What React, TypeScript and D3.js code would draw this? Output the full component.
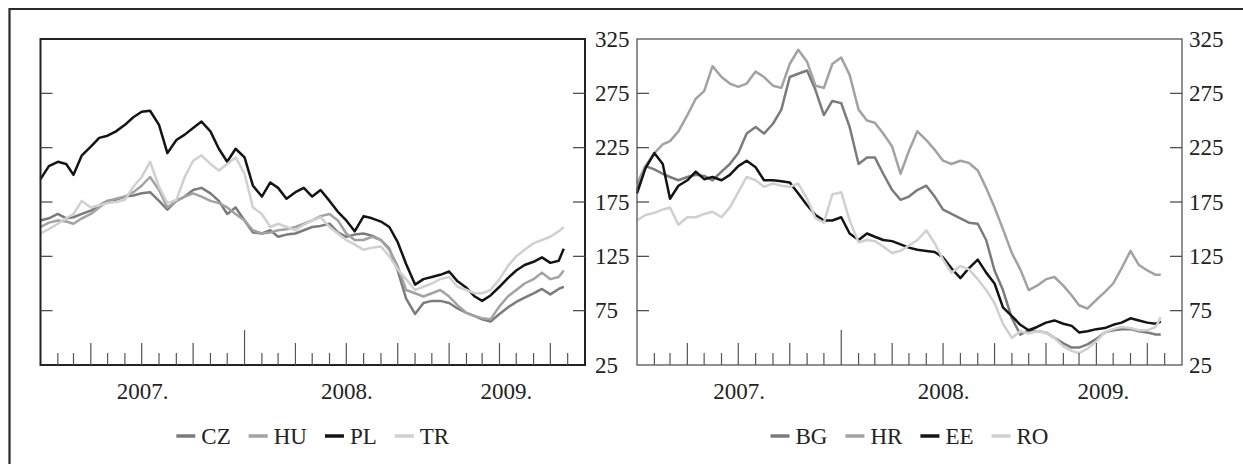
import React, { useEffect, useRef } from 'react';
import * as d3 from 'd3';

const W = 1243;
const H = 464;

const yTicks = [25, 75, 125, 175, 225, 275, 325];
const yearLabels = ['2007.', '2008.', '2009.'];
const leftNames = ['CZ', 'HU', 'PL', 'TR'];
const rightNames = ['BG', 'HR', 'EE', 'RO'];

// Semi-monthly observation dates (1st and 16th), Jan 2007 .. late Jul 2009
const dates: Date[] = d3
  .range(62)
  .map((i) => new Date(2007, Math.floor(i / 2), i % 2 ? 16 : 1))
  .concat([new Date(2009, 6, 25)]);

// Left panel
const CZ = [158, 160, 164, 160, 161, 164, 167, 172, 176, 177, 180, 181, 183, 184, 176, 168, 176, 180, 186, 188,
  183, 176, 164, 170, 158, 147, 146, 149, 143, 145, 146, 149, 152, 153, 155, 147, 143, 145, 146, 144,
  140, 132, 112, 86, 72, 82, 84, 84, 82, 77, 73, 70, 67, 65, 72, 78, 83, 87, 91, 95, 90, 95, 97];
const HU = [152, 156, 158, 157, 155, 160, 164, 170, 176, 178, 180, 184, 190, 198, 186, 170, 176, 180, 183, 180,
  176, 174, 170, 164, 158, 149, 146, 147, 149, 150, 152, 155, 158, 162, 164, 158, 146, 140, 140, 143,
  140, 131, 116, 94, 91, 88, 91, 94, 88, 80, 73, 70, 68, 67, 79, 88, 94, 100, 104, 110, 104, 106, 112];
const PL = [196, 208, 212, 210, 200, 218, 226, 234, 236, 240, 246, 253, 258, 259, 246, 220, 232, 237, 243, 249,
  240, 224, 212, 224, 216, 190, 180, 193, 188, 178, 184, 188, 180, 186, 176, 166, 158, 148, 162, 160,
  157, 152, 138, 118, 99, 104, 106, 108, 111, 102, 96, 88, 84, 89, 97, 105, 112, 117, 120, 124, 119, 121, 132];
const TR = [146, 150, 155, 160, 164, 176, 170, 172, 174, 175, 177, 189, 198, 212, 189, 174, 177, 198, 213, 218,
  210, 204, 210, 216, 201, 170, 164, 152, 155, 152, 149, 154, 158, 161, 152, 146, 140, 136, 131, 133,
  134, 125, 113, 104, 94, 97, 100, 104, 106, 97, 94, 91, 91, 94, 104, 116, 125, 131, 137, 140, 143, 148, 152];

// Right panel
const BG = [186, 208, 205, 201, 198, 195, 198, 200, 199, 195, 203, 210, 220, 238, 244, 238, 247, 260, 290, 293,
  296, 278, 255, 268, 266, 244, 210, 216, 216, 201, 186, 177, 180, 186, 190, 180, 168, 164, 160, 156,
  155, 140, 112, 94, 68, 53, 57, 56, 55, 50, 45, 41, 41, 44, 49, 55, 57, 58, 58, 56, 55, 53, 53];
const HR = [192, 208, 220, 228, 231, 240, 255, 270, 277, 300, 290, 284, 281, 284, 295, 290, 282, 280, 302, 315,
  304, 282, 280, 302, 308, 292, 260, 250, 248, 238, 226, 201, 222, 240, 232, 223, 213, 210, 213, 211,
  204, 188, 170, 150, 128, 113, 94, 98, 104, 106, 98, 89, 80, 77, 85, 92, 100, 114, 130, 117, 112, 108, 108];
const EE = [183, 206, 220, 210, 178, 190, 195, 203, 196, 198, 195, 200, 208, 213, 207, 195, 195, 194, 193, 183,
  172, 163, 158, 158, 161, 146, 140, 146, 143, 140, 139, 136, 133, 131, 130, 129, 124, 114, 105, 114,
  122, 110, 100, 78, 70, 62, 57, 60, 64, 66, 63, 61, 55, 56, 58, 59, 62, 64, 68, 66, 64, 63, 65];
const RO = [158, 163, 165, 168, 170, 154, 161, 161, 164, 166, 161, 170, 184, 198, 195, 189, 192, 190, 189, 192,
  178, 160, 156, 182, 184, 158, 138, 140, 139, 134, 128, 130, 135, 140, 149, 137, 122, 110, 116, 113,
  104, 94, 82, 63, 50, 56, 54, 56, 55, 50, 42, 38, 36, 40, 47, 55, 58, 60, 59, 57, 57, 60, 69];

const seriesColors = ['#7b7b7b', '#a2a2a2', '#141414', '#d0d0d0'];

const panels = [
  { left: 40.5, right: 585, names: leftNames, values: [CZ, HU, PL, TR], frameColor: '#222', frameWidth: 2, labelGap: 10, labels: true },
  { left: 637, right: 1182, names: rightNames, values: [BG, HR, EE, RO], frameColor: '#555', frameWidth: 1.3, labelGap: 7, labels: true },
];

export default function App() {
  const ref = useRef<SVGSVGElement>(null);

  useEffect(() => {
    const svg = d3.select(ref.current);
    svg.selectAll('*').remove();
    const FONT = '"Liberation Serif", "Times New Roman", serif';
    const FS = 23;

    svg.append('rect').attr('width', W).attr('height', H).attr('fill', '#fff');
    // outer frame (top and left only visible)
    svg.append('path')
      .attr('d', `M9.5,${H} V9 H${W}`)
      .attr('fill', 'none')
      .attr('stroke', '#2a2a2a')
      .attr('stroke-width', 2.2);

    const top = 39;
    const bottom = 365;
    const y = d3.scaleLinear().domain([25, 325]).range([bottom, top]);
    const d0 = new Date(2007, 0, 1);
    const d1 = new Date(2009, 8, 1);

    panels.forEach((p) => {
      const x = d3.scaleTime().domain([d0, d1]).range([p.left, p.right]);
      const g = svg.append('g');

      // series lines
      p.values.forEach((vals, si) => {
        const line = d3.line<number>()
          .x((_, i) => x(dates[i]))
          .y((d) => y(d));
        g.append('path')
          .attr('d', line(vals) as string)
          .attr('fill', 'none')
          .attr('stroke', seriesColors[si])
          .attr('stroke-width', 2.5)
          .attr('stroke-linejoin', 'round');
      });

      // frame
      g.append('rect')
        .attr('x', p.left)
        .attr('y', top)
        .attr('width', p.right - p.left)
        .attr('height', bottom - top)
        .attr('fill', 'none')
        .attr('stroke', p.frameColor)
        .attr('stroke-width', p.frameWidth);

      // y ticks (inside, both sides)
      yTicks.slice(1, -1).forEach((t) => {
        g.append('line').attr('x1', p.left).attr('x2', p.left + 12).attr('y1', y(t)).attr('y2', y(t))
          .attr('stroke', '#444').attr('stroke-width', 1.2);
        g.append('line').attr('x1', p.right - 12).attr('x2', p.right).attr('y1', y(t)).attr('y2', y(t))
          .attr('stroke', '#444').attr('stroke-width', 1.2);
      });

      // y labels on right
      yTicks.forEach((t) => {
        g.append('text')
          .attr('x', p.right + p.labelGap)
          .attr('y', y(t))
          .attr('dy', '0.33em')
          .attr('font-family', FONT)
          .attr('font-size', FS)
          .attr('fill', '#222')
          .text(String(t));
      });

      // x month ticks
      const months = d3.timeMonth.range(new Date(2007, 1, 1), new Date(2009, 7, 2));
      months.forEach((m) => {
        let len = 12;
        if (m.getMonth() % 3 === 0) len = 22;
        if (m.getFullYear() === 2008 && m.getMonth() === 0) len = 35;
        g.append('line')
          .attr('x1', x(m)).attr('x2', x(m))
          .attr('y1', bottom).attr('y2', bottom - len)
          .attr('stroke', '#555').attr('stroke-width', 1.2);
      });

      // year labels
      const spans: [Date, Date][] = [
        [new Date(2007, 0, 1), new Date(2008, 0, 1)],
        [new Date(2008, 0, 1), new Date(2009, 0, 1)],
        [new Date(2009, 0, 1), new Date(2009, 6, 25)],
      ];
      yearLabels.forEach((lab, i) => {
        g.append('text')
          .attr('x', (x(spans[i][0]) + x(spans[i][1])) / 2)
          .attr('y', 399)
          .attr('text-anchor', 'middle')
          .attr('font-family', FONT)
          .attr('font-size', FS)
          .attr('fill', '#222')
          .text(lab);
      });

      // legend
      const lg = g.append('g');
      let cx = 0;
      const ly = 436;
      p.names.forEach((n, si) => {
        lg.append('line')
          .attr('x1', cx).attr('x2', cx + 19)
          .attr('y1', ly).attr('y2', ly)
          .attr('stroke', seriesColors[si])
          .attr('stroke-width', 3.5);
        const t = lg.append('text')
          .attr('x', cx + 25)
          .attr('y', ly)
          .attr('dy', '0.33em')
          .attr('font-family', FONT)
          .attr('font-size', FS)
          .attr('fill', '#222')
          .text(n);
        const tw = (t.node() as SVGTextElement).getComputedTextLength();
        cx += 25 + tw + (si < p.names.length - 1 ? 18 : 0);
      });
      const center = (p.left + p.right) / 2;
      lg.attr('transform', `translate(${center - cx / 2},0)`);
    });
  }, []);

  return (
    <svg
      ref={ref}
      width={W}
      height={H}
      style={{ position: 'absolute', left: 0, top: 0, display: 'block', background: '#fff' }}
    />
  );
}
